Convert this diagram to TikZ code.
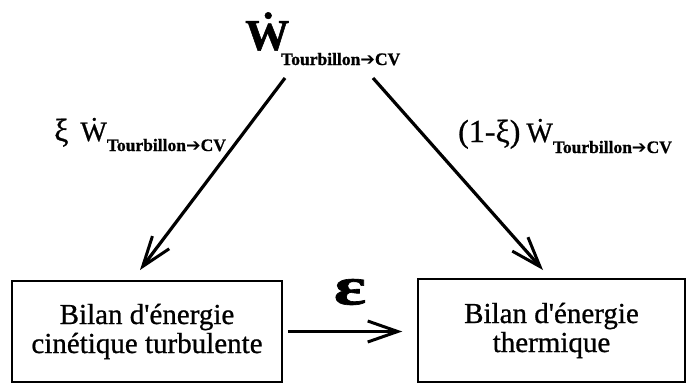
\documentclass[tikz,border=0pt]{standalone}
\usepackage{fontspec}
\setmainfont{Liberation Serif}[FakeBold=1.2]
\newfontfamily\heavy{Liberation Serif}[FakeBold=0.8]
\newfontfamily\arrowfont{DejaVu Sans}
\usetikzlibrary{arrows.meta}
\newcommand{\subtc}{{\fontsize{17.5}{17.5}\selectfont\bfseries Tourbillon{\arrowfont\bfseries ➔}CV}}
\begin{document}
\begin{tikzpicture}[x=1pt,y=-1pt,
  box/.style={draw, line width=1.5pt, rectangle, inner sep=0pt, align=center, font=\heavy\fontsize{29}{29}\selectfont},
  flow/.style={line width=3.2pt, -{Straight Barb[length=30pt, width=21pt, line width=3pt]}},
  lab/.style={anchor=base west, inner sep=0pt, font=\heavy\fontsize{28}{28}\selectfont}]
\useasboundingbox (0,0) rectangle (690,383);
\node[box, minimum width=270pt, minimum height=101pt] (kin) at (147,331.5) {Bilan d\textquotesingle énergie\\cinétique turbulente};
\node[box, minimum width=267pt, minimum height=103pt] (therm) at (551.5,330.5) {Bilan d\textquotesingle énergie\\thermique};
\node[anchor=base west, inner sep=0pt, font=\fontsize{44}{44}\selectfont\bfseries] (wdot) at (245,50) {\.{W}};
\node[anchor=base west, inner sep=0pt] (wsub) at (281,65) {\subtc};
\coordinate (tl) at (285,78);
\coordinate (tr) at (373,78);
\coordinate (bl) at (140,270);
\coordinate (br) at (543,270);
\draw[flow] (tl) -- (bl);
\draw[flow] (tr) -- (br);
\node[lab] (ll) at (54,141) {{\fontsize{32}{32}\selectfont ξ}\hspace{12pt}\.{W}\raisebox{-10pt}{\subtc}};
\node[lab] (rl) at (458,142) {{\fontsize{32}{32}\selectfont (1-ξ)}\hspace{6pt}\.{W}\raisebox{-11pt}{\subtc}};
\node[font=\fontsize{54}{54}\selectfont\bfseries, inner sep=0pt, xscale=1.4] (eps) at (350,292) {ε};
\draw[flow, shorten <=5pt, shorten >=15pt] (kin.east) -- (kin.east -| therm.west);
\end{tikzpicture}
\end{document}
